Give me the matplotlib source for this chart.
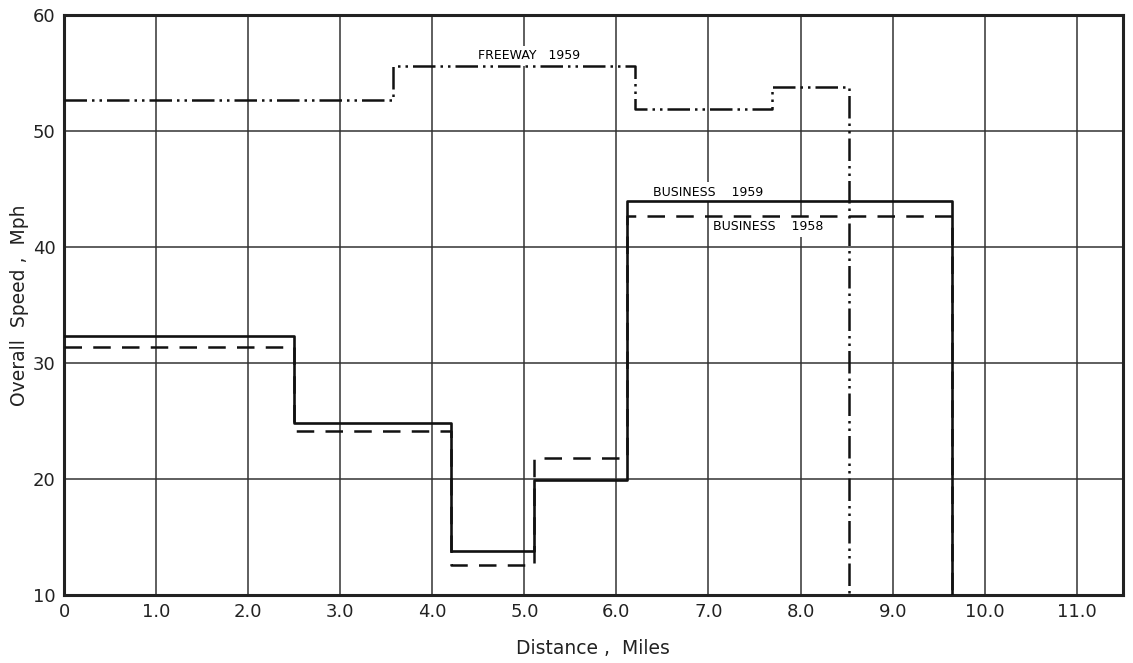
import matplotlib.pyplot as plt
import numpy as np

plt.rcParams["font.family"] = "DejaVu Sans"

# Overall speed by section, step profiles (edges in miles, speed in mph)
business_edges = [0.0, 2.5, 4.2, 5.1, 6.12, 9.65]
business_1959 = [32.3, 24.8, 13.8, 19.9, 44.0]
business_1958 = [31.4, 24.1, 12.6, 21.8, 42.7]

freeway_edges = [0.0, 3.57, 6.2, 7.69, 8.53]
freeway_1959 = [52.7, 55.6, 51.9, 53.8]

floor_speed = 10

x_ticks = np.arange(0, 12)
x_tick_labels = ["0"] + [f"{v:.1f}" for v in x_ticks[1:]]
y_ticks = np.arange(10, 70, 10)


def step_xy(edges, values, floor):
    # horizontal runs joined by verticals, final drop to the floor
    xs = []
    ys = []
    for i, v in enumerate(values):
        xs += [edges[i], edges[i + 1]]
        ys += [v, v]
    xs.append(edges[-1])
    ys.append(floor)
    return np.array(xs), np.array(ys)


fig = plt.figure(figsize=(11.33, 6.63), dpi=100)
ax = fig.add_axes([0.0565, 0.1026, 0.9345, 0.8748])

ax.set_xlim(0, 11.5)
ax.set_ylim(10, 60)
ax.set_xticks(x_ticks, x_tick_labels)
ax.set_yticks(y_ticks)
ax.tick_params(axis="both", length=0, labelsize=13, pad=6, colors="#222222")
ax.grid(True, color="#333333", linewidth=1.1)
ax.set_axisbelow(True)
for sp in ax.spines.values():
    sp.set_linewidth(2.2)
    sp.set_color("#222222")

bx, by = step_xy(business_edges, business_1959, floor_speed)
ax.plot(bx, by, color="#111111", linewidth=1.9, zorder=4)

bx, by = step_xy(business_edges, business_1958, floor_speed)
ax.plot(bx, by, color="#111111", linewidth=1.8, dashes=(7, 4.5), zorder=4)

fx, fy = step_xy(freeway_edges, freeway_1959, floor_speed)
ax.plot(fx, fy, color="#111111", linewidth=1.8,
        dashes=(9, 2, 1, 2, 1, 2), zorder=4)

box = dict(facecolor="white", edgecolor="none", pad=2.5)
ax.text(5.05, 56.5, "FREEWAY   1959", fontsize=9, ha="center", va="center",
        bbox=box, zorder=3)
ax.text(7.0, 44.7, "BUSINESS    1959", fontsize=9, ha="center", va="center",
        bbox=box, zorder=3)
ax.text(7.65, 41.75, "BUSINESS    1958", fontsize=9, ha="center", va="center",
        bbox=box, zorder=3)

ax.set_ylabel("Overall  Speed ,  Mph", fontsize=13.5, labelpad=3, color="#222222")
ax.set_xlabel("Distance ,  Miles", fontsize=13.5, labelpad=13, color="#222222")

fig.savefig("out.png", dpi=100)
